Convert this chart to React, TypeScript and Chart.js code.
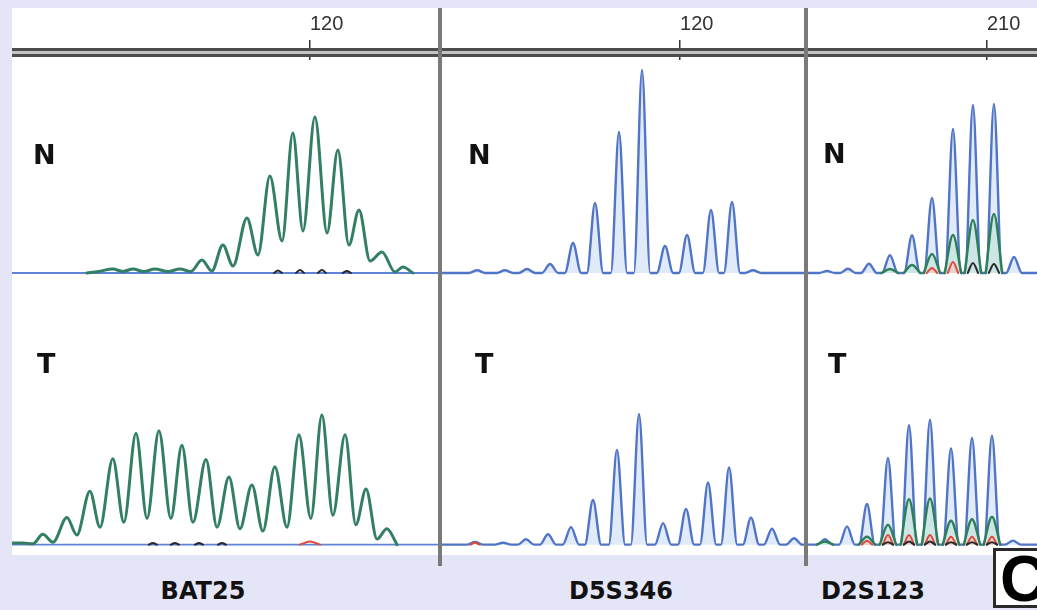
import React, { useEffect, useRef } from "react";
import { Chart, registerables } from "chart.js";

Chart.register(...registerables);

type Pair = [number, number];

// ---------------- text ----------------
const markerNames = ["BAT25", "D5S346", "D2S123"];
const sampleNames = ["N", "T"];
const panelLetter = "C";
const sizeTicks = [120, 120, 210]; // fragment size (bp) marked on each ruler

// ---------------- BAT25 (green channel, [size bp, signal]) ----------------
const bat25NormalGreen: Pair[] = [
  [110.09, 0], [110.6, 1.5], [111.24, 4], [111.69, 1.5], [112.13, 4], [112.62, 1.5],
  [113.11, 4], [113.69, 1.5], [114.22, 4], [114.71, 1.5], [115.2, 13], [115.64, 2],
  [116.13, 28], [116.58, 7], [117.2, 55], [117.69, 18], [118.22, 97], [118.76, 32],
  [119.24, 140], [119.69, 42], [120.22, 156], [120.76, 40], [121.24, 123], [121.73, 28],
  [122.18, 63], [122.67, 12], [123.2, 21], [123.78, 1], [124.13, 6], [124.58, 0],
];
const bat25NormalBlack: Pair[] = [[118.58, 2.5], [119.56, 3], [120.53, 3], [121.64, 2]];
const bat25NormalBlue: Pair[] = [];

const bat25TumorGreen: Pair[] = [
  [106.8, 2], [107.24, 2], [107.69, 1], [108.13, 13], [108.58, 3], [109.2, 34],
  [109.64, 12], [110.22, 67], [110.67, 22], [111.24, 108], [111.73, 28], [112.27, 140],
  [112.76, 33], [113.29, 143], [113.82, 33], [114.31, 125], [114.8, 28], [115.38, 107],
  [115.87, 22], [116.4, 85], [116.89, 20], [117.42, 75], [117.91, 17], [118.44, 98],
  [118.98, 22], [119.51, 138], [120.04, 33], [120.53, 163], [121.02, 37], [121.56, 138],
  [122.04, 25], [122.49, 70], [122.98, 7], [123.42, 20], [123.87, 0],
];
const bat25TumorBlack: Pair[] = [[113.02, 2], [114.0, 2], [115.07, 2], [116.09, 2]];
const bat25TumorRed: Pair[] = [[120.0, 4]];
const bat25TumorBlue: Pair[] = [];

// ---------------- D5S346 (blue channel peaks [size bp, height]) ----------------
const d5s346NormalBlue: Pair[] = [
  [102.04, 2.7], [104.51, 2.7], [106.46, 4], [108.5, 9], [110.53, 30], [112.48, 70],
  [114.6, 141], [116.64, 203], [118.67, 27], [120.62, 38], [122.74, 63], [124.6, 71],
  [126.46, 2.7],
];
const d5s346TumorBlue: Pair[] = [
  [101.86, 3.3], [104.34, 2.3], [106.37, 6.7], [108.32, 13], [110.35, 22], [112.3, 56],
  [114.42, 119], [116.37, 164], [118.5, 27], [120.53, 45], [122.48, 78], [124.34, 97],
  [126.28, 34], [128.14, 20], [130.09, 8],
];
const d5s346TumorRed: Pair[] = [[101.86, 2.5]];

// ---------------- D2S123 (peaks [size bp, height]) ----------------
const d2s123NormalBlue: Pair[] = [
  [194.62, 2], [196.63, 4.3], [198.65, 9.3], [200.67, 17.7], [202.79, 37.7],
  [204.71, 75], [206.73, 144], [208.65, 168], [210.67, 169], [212.6, 16],
];
const d2s123NormalGreen: Pair[] = [
  [200.67, 4], [202.79, 8], [204.71, 19], [206.73, 38], [208.65, 53], [210.67, 59],
];
const d2s123NormalRed: Pair[] = [[204.71, 5], [206.73, 11]];
const d2s123NormalBlack: Pair[] = [[208.65, 10], [210.67, 9]];

const d2s123TumorBlue: Pair[] = [
  [194.42, 6.7], [196.54, 23], [198.46, 51], [200.48, 109], [202.5, 150],
  [204.52, 157], [206.54, 121], [208.56, 134], [210.48, 137], [212.5, 5],
];
const d2s123TumorGreen: Pair[] = [
  [194.42, 4], [198.46, 10], [200.48, 25], [202.5, 57], [204.52, 58], [206.54, 30],
  [208.56, 32], [210.48, 35],
];
const d2s123TumorRed: Pair[] = [
  [198.46, 5], [200.48, 12], [202.5, 12], [204.52, 12], [206.54, 10], [208.56, 10], [210.48, 10],
];
const d2s123TumorBlack: Pair[] = [
  [200.48, 3], [202.5, 4], [204.52, 4], [206.54, 3], [208.56, 3], [210.48, 3],
];

// ---------------- scale configuration ----------------
const xRanges: Pair[] = [[106.76, 125.69], [98.94, 130.97], [192.79, 214.81]];
const yRangeNormal: Pair = [-12, 213];
const yRangeTumor: Pair = [-13, 242];

// ---------------- styling ----------------
const COLORS = {
  lavender: "#e5e5f8",
  green: "#327f62",
  greenPeak: "#2c7f58",
  greenFill: "rgba(170,220,190,0.35)",
  blue: "#5074c6",
  blueFill: "rgba(200,216,244,0.55)",
  base: "#5f83d6",
  red: "#e0483a",
  redFill: "rgba(255,200,190,0.6)",
  black: "#2a2a2a",
  axis: "#333333",
};

type Pt = { x: number; y: number | null };

function trace(pairs: Pair[]): Pt[] {
  return pairs.map(([x, y]) => ({ x, y }));
}

function peaks(pairs: Pair[], halfWidth: number, range?: Pair): Pt[] {
  const pts: Pt[] = [];
  if (range) pts.push({ x: range[0], y: 0 });
  pairs.forEach(([c, h]) => {
    pts.push({ x: c - halfWidth, y: 0 }, { x: c, y: h }, { x: c + halfWidth, y: 0 });
    if (!range) pts.push({ x: c + halfWidth + 0.001, y: null });
  });
  if (range) pts.push({ x: range[1], y: 0 });
  return pts;
}

function ds(data: Pt[], color: string, width: number, fillColor?: string) {
  return {
    data,
    borderColor: color,
    borderWidth: width,
    fill: fillColor ? "origin" : false,
    backgroundColor: fillColor || "rgba(0,0,0,0)",
    pointRadius: 0,
    cubicInterpolationMode: "monotone",
    borderJoinStyle: "round",
    borderCapStyle: "round",
    spanGaps: false,
  };
}

// datasets listed top-most first
function panelDatasets(col: number, row: number) {
  const r = xRanges[col];
  if (col === 0 && row === 0) {
    return [
      ds(peaks(bat25NormalBlack, 0.18), COLORS.black, 2),
      ds(trace(bat25NormalGreen), COLORS.green, 3),
      ds(peaks(bat25NormalBlue, 0.5, r), COLORS.base, 1.8),
    ];
  }
  if (col === 0 && row === 1) {
    return [
      ds(peaks(bat25TumorRed, 0.45), COLORS.red, 2),
      ds(peaks(bat25TumorBlack, 0.18), COLORS.black, 2),
      ds(trace(bat25TumorGreen), COLORS.green, 3),
      ds(peaks(bat25TumorBlue, 0.5, r), COLORS.base, 1.8),
    ];
  }
  if (col === 1 && row === 0) {
    return [ds(peaks(d5s346NormalBlue, 0.72, r), COLORS.blue, 2.4, COLORS.blueFill)];
  }
  if (col === 1 && row === 1) {
    return [
      ds(peaks(d5s346TumorRed, 0.4), COLORS.red, 2),
      ds(peaks(d5s346TumorBlue, 0.72, r), COLORS.blue, 2.4, COLORS.blueFill),
    ];
  }
  if (col === 2 && row === 0) {
    return [
      ds(peaks(d2s123NormalBlack, 0.5), COLORS.black, 2),
      ds(peaks(d2s123NormalRed, 0.5), COLORS.red, 2, COLORS.redFill),
      ds(peaks(d2s123NormalGreen, 0.8), COLORS.greenPeak, 2.4, COLORS.greenFill),
      ds(peaks(d2s123NormalBlue, 0.76, r), COLORS.blue, 2.4, COLORS.blueFill),
    ];
  }
  return [
    ds(peaks(d2s123TumorBlack, 0.5), COLORS.black, 2),
    ds(peaks(d2s123TumorRed, 0.5), COLORS.red, 2, COLORS.redFill),
    ds(peaks(d2s123TumorGreen, 0.8), COLORS.greenPeak, 2.4, COLORS.greenFill),
    ds(peaks(d2s123TumorBlue, 0.76, r), COLORS.blue, 2.4, COLORS.blueFill),
  ];
}

// ---------------- layout ----------------
const columns = [
  { left: 12, width: 426 },
  { left: 442, width: 362 },
  { left: 808, width: 229 },
];
const rows = [
  { top: 8, height: 277 },
  { top: 300, height: 255 },
];
const labelPos = [
  [{ left: 33, top: 141 }, { left: 37, top: 350 }],
  [{ left: 468, top: 141 }, { left: 475, top: 350 }],
  [{ left: 823, top: 140 }, { left: 828, top: 350 }],
];
const markerCenters = [203, 621, 873];

function buildConfig(col: number, row: number): any {
  const [xMin, xMax] = xRanges[col];
  const [yMin, yMax] = row === 0 ? yRangeNormal : yRangeTumor;
  const tick = sizeTicks[col];
  return {
    type: "line",
    data: { datasets: panelDatasets(col, row) },
    options: {
      animation: false,
      responsive: false,
      events: [],
      layout: { padding: 0 },
      plugins: {
        legend: { display: false },
        tooltip: { enabled: false },
        title: { display: false },
      },
      scales: {
        x: {
          type: "linear",
          min: xMin,
          max: xMax,
          display: row === 0,
          position: "top",
          afterBuildTicks: (s: any) => {
            s.ticks = [{ value: tick }];
          },
          afterFit: (s: any) => {
            s.height = 52;
          },
          grid: {
            drawOnChartArea: false,
            drawTicks: true,
            tickLength: 20,
            color: COLORS.axis,
            lineWidth: 1.5,
          },
          border: { display: false },
          ticks: {
            align: "start",
            padding: 4,
            color: COLORS.axis,
            autoSkip: false,
            maxRotation: 0,
            font: { family: "Liberation Sans", size: 20 },
            callback: (v: number) => String(v),
          },
        },
        y: { type: "linear", min: yMin, max: yMax, display: false },
      },
    },
  };
}

const panelList = [0, 1, 2].flatMap((col) => [0, 1].map((row) => ({ col, row })));

export default function App() {
  const refs = useRef<(HTMLCanvasElement | null)[]>([]);

  useEffect(() => {
    const charts = panelList.map((p, i) => new Chart(refs.current[i] as HTMLCanvasElement, buildConfig(p.col, p.row)));
    return () => charts.forEach((c) => c.destroy());
  }, []);

  const labelFont: React.CSSProperties = {
    position: "absolute",
    fontFamily: "'DejaVu Sans', sans-serif",
    fontWeight: "bold",
    lineHeight: 1,
    color: "#111",
    whiteSpace: "nowrap",
  };

  return (
    <div
      style={{
        position: "absolute",
        left: 0,
        top: 0,
        width: 1037,
        height: 610,
        background: COLORS.lavender,
        overflow: "hidden",
      }}
    >
      <div style={{ position: "absolute", left: 12, top: 8, width: 1025, height: 547, background: "#ffffff" }} />
      {panelList.map((p, i) => (
        <canvas
          key={i}
          ref={(el) => {
            refs.current[i] = el;
          }}
          width={columns[p.col].width}
          height={rows[p.row].height}
          style={{
            position: "absolute",
            left: columns[p.col].left,
            top: rows[p.row].top,
            width: columns[p.col].width,
            height: rows[p.row].height,
          }}
        />
      ))}
      {/* ruler double line */}
      <div style={{ position: "absolute", left: 12, top: 48, width: 1025, height: 2.5, background: "#4d4d4d" }} />
      <div style={{ position: "absolute", left: 12, top: 50.5, width: 1025, height: 3, background: "#c4c4c4" }} />
      <div style={{ position: "absolute", left: 12, top: 53.5, width: 1025, height: 3.5, background: "#4d4d4d" }} />
      {/* column dividers */}
      <div style={{ position: "absolute", left: 438, top: 8, width: 4, height: 558, background: "#7a7a7a" }} />
      <div style={{ position: "absolute", left: 804, top: 8, width: 4, height: 558, background: "#7a7a7a" }} />
      {/* N / T labels */}
      {labelPos.map((colPos, c) =>
        colPos.map((pos, r) => (
          <div key={`${c}-${r}`} style={{ ...labelFont, left: pos.left, top: pos.top, fontSize: 27 }}>
            {sampleNames[r]}
          </div>
        ))
      )}
      {/* marker names */}
      {markerNames.map((m, i) => (
        <div
          key={m}
          style={{
            ...labelFont,
            left: markerCenters[i] - 100,
            width: 200,
            textAlign: "center",
            top: 579,
            fontSize: 24,
          }}
        >
          {m}
        </div>
      ))}
      {/* panel letter box */}
      <div
        style={{
          position: "absolute",
          left: 993,
          top: 548,
          width: 60,
          height: 54,
          border: "3px solid #2a2a2a",
          background: "#ffffff",
        }}
      />
      <div
        style={{
          position: "absolute",
          left: 1000,
          top: 547,
          fontFamily: "'Liberation Sans', sans-serif",
          fontWeight: "bold",
          fontSize: 64,
          lineHeight: 1,
          color: "#000",
        }}
      >
        {panelLetter}
      </div>
    </div>
  );
}
